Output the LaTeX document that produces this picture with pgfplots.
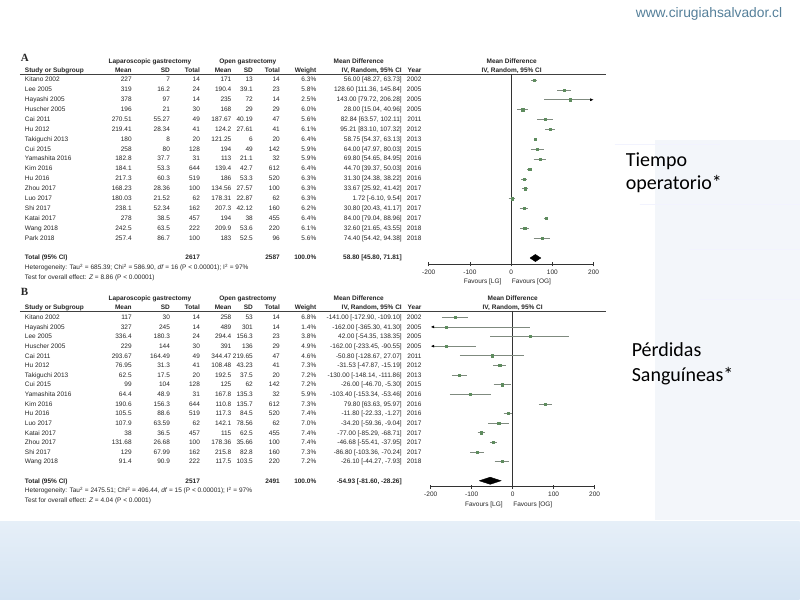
\documentclass[border=0pt]{standalone}
\usepackage{pgfplots}
\pgfplotsset{compat=1.18}
\usepackage{fontspec}
\setmainfont{Liberation Sans}
\newfontfamily\carlito{Carlito}
\newfontfamily\serifb{Liberation Serif}
\usetikzlibrary{arrows.meta}
\definecolor{urlc}{HTML}{55809A}
\definecolor{txt}{HTML}{262626}
\definecolor{cil}{HTML}{7F8A7F}
\definecolor{sqc}{HTML}{5E8C5E}
\definecolor{band1}{HTML}{E6EFF8}
\definecolor{band2}{HTML}{BCD4EC}
\definecolor{band3}{HTML}{D5E4F3}
\definecolor{faint}{HTML}{EEF3F9}
\newcommand{\fs}{\fontsize{6.5}{7.5}\selectfont}
\def\rb{79.5}\def\rs{9.9}
\newcommand{\ry}[1]{\rb+\rs*#1-\rs+2.35}
\newcommand{\tr}[9]{%
\node[anchor=base west] at (25,\ry{#1}) {#2};
\node[anchor=base east] at (131.7,\ry{#1}) {#3};
\node[anchor=base east] at (170,\ry{#1}) {#4};
\node[anchor=base east] at (200,\ry{#1}) {#5};
\node[anchor=base east] at (231.5,\ry{#1}) {#6};
\node[anchor=base east] at (253,\ry{#1}) {#7};
\node[anchor=base east] at (280,\ry{#1}) {#8};
\node[anchor=base east] at (316.5,\ry{#1}) {#9};}
\newcommand{\tc}[3]{%
\node[anchor=base east] at (402,\ry{#1}) {#2};
\node[anchor=base east] at (421.7,\ry{#1}) {#3};}
\newcommand{\ci}[3]{\addplot[cil, line width=0.6pt] coordinates {(#1,#3) (#2,#3)};}
\pgfplotsset{forest/.style={scale only axis, xmin=-200, xmax=200, y dir=reverse,
  axis x line=bottom, axis y line=none, axis line style={-, black!80, line width=0.6pt},
  xtick={-200,-100,0,100,200}, xticklabels={-200,-100,0,100,200}, ytick=\empty,
  tick style={black!80, line width=0.6pt}, major tick length=4pt, tick align=center,
  xticklabel style={font=\fs, text=txt}, clip=false}}
\begin{document}
\begin{tikzpicture}
\begin{scope}[x=1pt,y=-1pt]
\fill[white] (0,0) rectangle (800,600);
% faint slide decoration
\fill[faint, opacity=0.7] (655,140) rectangle (800,520);
\draw[faint!80!blue!20, line width=1pt] (615,145) -- (720,145) (640,205) -- (800,205) (690,250) -- (800,250) (700,300) -- (800,300);
\shade[top color=band1, middle color=band2, bottom color=band3] (0,522) rectangle (800,600);
\node[anchor=base west, inner sep=0pt, text=urlc, font=\fontsize{13.8}{16}\selectfont] at (636,18) {www.cirugiahsalvador.cl};
\node[anchor=base west, inner sep=0pt, text=black, font=\carlito\fontsize{20}{24}\selectfont] at (626,166.5) {Tiempo};
\node[anchor=base west, inner sep=0pt, text=black, font=\carlito\fontsize{20}{24}\selectfont] at (626,190) {operatorio*};
\node[anchor=base west, inner sep=0pt, text=black, font=\carlito\fontsize{20}{24}\selectfont] at (632,356.7) {Pérdidas};
\node[anchor=base west, inner sep=0pt, text=black, font=\carlito\fontsize{20}{24}\selectfont] at (632,381.7) {Sanguíneas*};
\begin{scope}[every node/.style={inner sep=0pt, outer sep=0pt, font=\fs, text=txt}]
% ---------------- Panel A ----------------
\node[anchor=base west, font=\serifb\bfseries\fontsize{11}{12}\selectfont] at (21,62) {A};
\node[anchor=base, font=\fs\bfseries] at (150,63.8) {Laparoscopic gastrectomy};
\node[anchor=base, font=\fs\bfseries] at (248,63.8) {Open gastrectomy};
\node[anchor=base, font=\fs\bfseries] at (359,63.8) {Mean Difference};
\node[anchor=base, font=\fs\bfseries] at (512,63.8) {Mean Difference};
\node[anchor=base west, font=\fs\bfseries] at (25,72.3) {Study or Subgroup};
\node[anchor=base east, font=\fs\bfseries] at (131.7,72.3) {Mean};
\node[anchor=base east, font=\fs\bfseries] at (170,72.3) {SD};
\node[anchor=base east, font=\fs\bfseries] at (200,72.3) {Total};
\node[anchor=base east, font=\fs\bfseries] at (231.5,72.3) {Mean};
\node[anchor=base east, font=\fs\bfseries] at (253,72.3) {SD};
\node[anchor=base east, font=\fs\bfseries] at (280,72.3) {Total};
\node[anchor=base east, font=\fs\bfseries] at (316.5,72.3) {Weight};
\node[anchor=base east, font=\fs\bfseries] at (402,72.3) {IV, Random, 95\% CI};
\node[anchor=base east, font=\fs\bfseries] at (421.7,72.3) {Year};
\node[anchor=base, font=\fs\bfseries] at (512,72.3) {IV, Random, 95\% CI};
\draw[black!75, line width=0.6pt] (20,74.5) -- (606,74.5);
\tr{1}{Kitano 2002}{227}{7}{14}{171}{13}{14}{6.3\%}\tc{1}{56.00 [48.27, 63.73]}{2002}
\tr{2}{Lee 2005}{319}{16.2}{24}{190.4}{39.1}{23}{5.8\%}\tc{2}{128.60 [111.36, 145.84]}{2005}
\tr{3}{Hayashi 2005}{378}{97}{14}{235}{72}{14}{2.5\%}\tc{3}{143.00 [79.72, 206.28]}{2005}
\tr{4}{Huscher 2005}{196}{21}{30}{168}{29}{29}{6.0\%}\tc{4}{28.00 [15.04, 40.96]}{2005}
\tr{5}{Cai 2011}{270.51}{55.27}{49}{187.67}{40.19}{47}{5.6\%}\tc{5}{82.84 [63.57, 102.11]}{2011}
\tr{6}{Hu 2012}{219.41}{28.34}{41}{124.2}{27.61}{41}{6.1\%}\tc{6}{95.21 [83.10, 107.32]}{2012}
\tr{7}{Takiguchi 2013}{180}{8}{20}{121.25}{6}{20}{6.4\%}\tc{7}{58.75 [54.37, 63.13]}{2013}
\tr{8}{Cui 2015}{258}{80}{128}{194}{49}{142}{5.9\%}\tc{8}{64.00 [47.97, 80.03]}{2015}
\tr{9}{Yamashita 2016}{182.8}{37.7}{31}{113}{21.1}{32}{5.9\%}\tc{9}{69.80 [54.65, 84.95]}{2016}
\tr{10}{Kim 2016}{184.1}{53.3}{644}{139.4}{42.7}{612}{6.4\%}\tc{10}{44.70 [39.37, 50.03]}{2016}
\tr{11}{Hu 2016}{217.3}{60.3}{519}{186}{53.3}{520}{6.3\%}\tc{11}{31.30 [24.38, 38.22]}{2016}
\tr{12}{Zhou 2017}{168.23}{28.36}{100}{134.56}{27.57}{100}{6.3\%}\tc{12}{33.67 [25.92, 41.42]}{2017}
\tr{13}{Luo 2017}{180.03}{21.52}{62}{178.31}{22.87}{62}{6.3\%}\tc{13}{1.72 [-6.10, 9.54]}{2017}
\tr{14}{Shi 2017}{238.1}{52.34}{162}{207.3}{42.12}{160}{6.2\%}\tc{14}{30.80 [20.43, 41.17]}{2017}
\tr{15}{Katai 2017}{278}{38.5}{457}{194}{38}{455}{6.4\%}\tc{15}{84.00 [79.04, 88.96]}{2017}
\tr{16}{Wang 2018}{242.5}{63.5}{222}{209.9}{53.6}{220}{6.1\%}\tc{16}{32.60 [21.65, 43.55]}{2018}
\tr{17}{Park 2018}{257.4}{86.7}{100}{183}{52.5}{96}{5.6\%}\tc{17}{74.40 [54.42, 94.38]}{2018}
\node[anchor=base west, font=\fs\bfseries] at (25,\ry{19}) {Total (95\% CI)};
\node[anchor=base east, font=\fs\bfseries] at (200,\ry{19}) {2617};
\node[anchor=base east, font=\fs\bfseries] at (280,\ry{19}) {2587};
\node[anchor=base east, font=\fs\bfseries] at (316.5,\ry{19}) {100.0\%};
\node[anchor=base east, font=\fs\bfseries] at (402,\ry{19}) {58.80 [45.80, 71.81]};
\node[anchor=base west] at (25,\ry{20}) {Heterogeneity: Tau\textsuperscript{2} = 685.39; Chi\textsuperscript{2} = 586.90, \textit{df} = 16 (P < 0.00001); I\textsuperscript{2} = 97\%};
\node[anchor=base west] at (25,\ry{21}) {Test for overall effect: \textit{Z} = 8.86 (P < 0.00001)};
\node[anchor=base east] at (501.7,283.3) {Favours [LG]};
\node[anchor=base west] at (512.3,283.3) {Favours [OG]};
% ---------------- Panel B ----------------
\def\rb{317.5}\def\rs{9.62}
\node[anchor=base west, font=\serifb\bfseries\fontsize{11}{12}\selectfont] at (21,296) {B};
\node[anchor=base, font=\fs\bfseries] at (150,300.8) {Laparoscopic gastrectomy};
\node[anchor=base, font=\fs\bfseries] at (248,300.8) {Open gastrectomy};
\node[anchor=base, font=\fs\bfseries] at (359,300.8) {Mean Difference};
\node[anchor=base, font=\fs\bfseries] at (513,300.8) {Mean Difference};
\node[anchor=base west, font=\fs\bfseries] at (25,309.8) {Study or Subgroup};
\node[anchor=base east, font=\fs\bfseries] at (131.7,309.8) {Mean};
\node[anchor=base east, font=\fs\bfseries] at (170,309.8) {SD};
\node[anchor=base east, font=\fs\bfseries] at (200,309.8) {Total};
\node[anchor=base east, font=\fs\bfseries] at (231.5,309.8) {Mean};
\node[anchor=base east, font=\fs\bfseries] at (253,309.8) {SD};
\node[anchor=base east, font=\fs\bfseries] at (280,309.8) {Total};
\node[anchor=base east, font=\fs\bfseries] at (316.5,309.8) {Weight};
\node[anchor=base east, font=\fs\bfseries] at (402,309.8) {IV, Random, 95\% CI};
\node[anchor=base east, font=\fs\bfseries] at (421.7,309.8) {Year};
\node[anchor=base, font=\fs\bfseries] at (513,309.8) {IV, Random, 95\% CI};
\draw[black!75, line width=0.6pt] (20,311.5) -- (606,311.5);
\tr{1}{Kitano 2002}{117}{30}{14}{258}{53}{14}{6.8\%}\tc{1}{-141.00 [-172.90, -109.10]}{2002}
\tr{2}{Hayashi 2005}{327}{245}{14}{489}{301}{14}{1.4\%}\tc{2}{-162.00 [-365.30, 41.30]}{2005}
\tr{3}{Lee 2005}{336.4}{180.3}{24}{294.4}{156.3}{23}{3.8\%}\tc{3}{42.00 [-54.35, 138.35]}{2005}
\tr{4}{Huscher 2005}{229}{144}{30}{391}{136}{29}{4.9\%}\tc{4}{-162.00 [-233.45, -90.55]}{2005}
\tr{5}{Cai 2011}{293.67}{164.49}{49}{344.47}{219.65}{47}{4.6\%}\tc{5}{-50.80 [-128.67, 27.07]}{2011}
\tr{6}{Hu 2012}{76.95}{31.3}{41}{108.48}{43.23}{41}{7.3\%}\tc{6}{-31.53 [-47.87, -15.19]}{2012}
\tr{7}{Takiguchi 2013}{62.5}{17.5}{20}{192.5}{37.5}{20}{7.2\%}\tc{7}{-130.00 [-148.14, -111.86]}{2013}
\tr{8}{Cui 2015}{99}{104}{128}{125}{62}{142}{7.2\%}\tc{8}{-26.00 [-46.70, -5.30]}{2015}
\tr{9}{Yamashita 2016}{64.4}{48.9}{31}{167.8}{135.3}{32}{5.9\%}\tc{9}{-103.40 [-153.34, -53.46]}{2016}
\tr{10}{Kim 2016}{190.6}{156.3}{644}{110.8}{135.7}{612}{7.3\%}\tc{10}{79.80 [63.63, 95.97]}{2016}
\tr{11}{Hu 2016}{105.5}{88.6}{519}{117.3}{84.5}{520}{7.4\%}\tc{11}{-11.80 [-22.33, -1.27]}{2016}
\tr{12}{Luo 2017}{107.9}{63.59}{62}{142.1}{78.56}{62}{7.0\%}\tc{12}{-34.20 [-59.36, -9.04]}{2017}
\tr{13}{Katai 2017}{38}{36.5}{457}{115}{62.5}{455}{7.4\%}\tc{13}{-77.00 [-85.29, -68.71]}{2017}
\tr{14}{Zhou 2017}{131.68}{26.68}{100}{178.36}{35.66}{100}{7.4\%}\tc{14}{-46.68 [-55.41, -37.95]}{2017}
\tr{15}{Shi 2017}{129}{67.99}{162}{215.8}{82.8}{160}{7.3\%}\tc{15}{-86.80 [-103.36, -70.24]}{2017}
\tr{16}{Wang 2018}{91.4}{90.9}{222}{117.5}{103.5}{220}{7.2\%}\tc{16}{-26.10 [-44.27, -7.93]}{2018}
\node[anchor=base west, font=\fs\bfseries] at (25,\ry{18}) {Total (95\% CI)};
\node[anchor=base east, font=\fs\bfseries] at (200,\ry{18}) {2517};
\node[anchor=base east, font=\fs\bfseries] at (280,\ry{18}) {2491};
\node[anchor=base east, font=\fs\bfseries] at (316.5,\ry{18}) {100.0\%};
\node[anchor=base east, font=\fs\bfseries] at (402,\ry{18}) {-54.93 [-81.60, -28.26]};
\node[anchor=base west] at (25,\ry{19}) {Heterogeneity: Tau\textsuperscript{2} = 2475.51; Chi\textsuperscript{2} = 496.44, \textit{df} = 15 (P < 0.00001); I\textsuperscript{2} = 97\%};
\node[anchor=base west] at (25,\ry{20}) {Test for overall effect: \textit{Z} = 4.04 (P < 0.0001)};
\node[anchor=base east] at (503,507.3) {Favours [LG]};
\node[anchor=base west] at (513.6,507.3) {Favours [OG]};
\end{scope}
\end{scope}
% ---------------- Forest plot A ----------------
\begin{axis}[forest, at={(429pt,-264.5pt)}, anchor=south west, width=165pt, height=190pt, ymin=0.444, ymax=19.64]
\draw[black!80, line width=0.6pt] (axis cs:0,0.444) -- (axis cs:0,19.64);
\ci{48.27}{63.73}{1}
\ci{111.36}{145.84}{2}
\addplot[cil, line width=0.6pt, -{Latex[length=3.5pt,width=3pt,black]}] coordinates {(79.72,3) (200,3)}; % upper limit 206.28 beyond axis
\ci{15.04}{40.96}{4}
\ci{63.57}{102.11}{5}
\ci{83.10}{107.32}{6}
\ci{54.37}{63.13}{7}
\ci{47.97}{80.03}{8}
\ci{54.65}{84.95}{9}
\ci{39.37}{50.03}{10}
\ci{24.38}{38.22}{11}
\ci{25.92}{41.42}{12}
\ci{-6.10}{9.54}{13}
\ci{20.43}{41.17}{14}
\ci{79.04}{88.96}{15}
\ci{21.65}{43.55}{16}
\ci{54.42}{94.38}{17}
\addplot[only marks, mark=square*, mark size=1.1pt, color=sqc] coordinates {
(56.00,1) (128.60,2) (143.00,3) (28.00,4) (82.84,5) (95.21,6) (58.75,7) (64.00,8) (69.80,9)
(44.70,10) (31.30,11) (33.67,12) (1.72,13) (30.80,14) (84.00,15) (32.60,16) (74.40,17)};
\addplot[fill=black, draw=black] coordinates {(45.80,19) (58.80,18.64) (71.81,19) (58.80,19.36) (45.80,19)};
\end{axis}
% ---------------- Forest plot B ----------------
\begin{axis}[forest, at={(431pt,-487pt)}, anchor=south west, width=164pt, height=176pt, ymin=0.324, ymax=18.62]
\draw[black!80, line width=0.6pt] (axis cs:0,0.324) -- (axis cs:0,18.62);
\ci{-172.90}{-109.10}{1}
\addplot[cil, line width=0.6pt, -{Latex[length=3.5pt,width=3pt,black]}] coordinates {(41.30,2) (-200,2)}; % lower limit -365.30 beyond axis
\ci{-54.35}{138.35}{3}
\addplot[cil, line width=0.6pt, -{Latex[length=3.5pt,width=3pt,black]}] coordinates {(-90.55,4) (-200,4)}; % lower limit -233.45 beyond axis
\ci{-128.67}{27.07}{5}
\ci{-47.87}{-15.19}{6}
\ci{-148.14}{-111.86}{7}
\ci{-46.70}{-5.30}{8}
\ci{-153.34}{-53.46}{9}
\ci{63.63}{95.97}{10}
\ci{-22.33}{-1.27}{11}
\ci{-59.36}{-9.04}{12}
\ci{-85.29}{-68.71}{13}
\ci{-55.41}{-37.95}{14}
\ci{-103.36}{-70.24}{15}
\ci{-44.27}{-7.93}{16}
\addplot[only marks, mark=square*, mark size=1.1pt, color=sqc] coordinates {
(-141.00,1) (-162.00,2) (42.00,3) (-162.00,4) (-50.80,5) (-31.53,6) (-130.00,7) (-26.00,8)
(-103.40,9) (79.80,10) (-11.80,11) (-34.20,12) (-77.00,13) (-46.68,14) (-86.80,15) (-26.10,16)};
\addplot[fill=black, draw=black] coordinates {(-81.60,18) (-54.93,17.63) (-28.26,18) (-54.93,18.37) (-81.60,18)};
\end{axis}
\end{tikzpicture}
\end{document}
